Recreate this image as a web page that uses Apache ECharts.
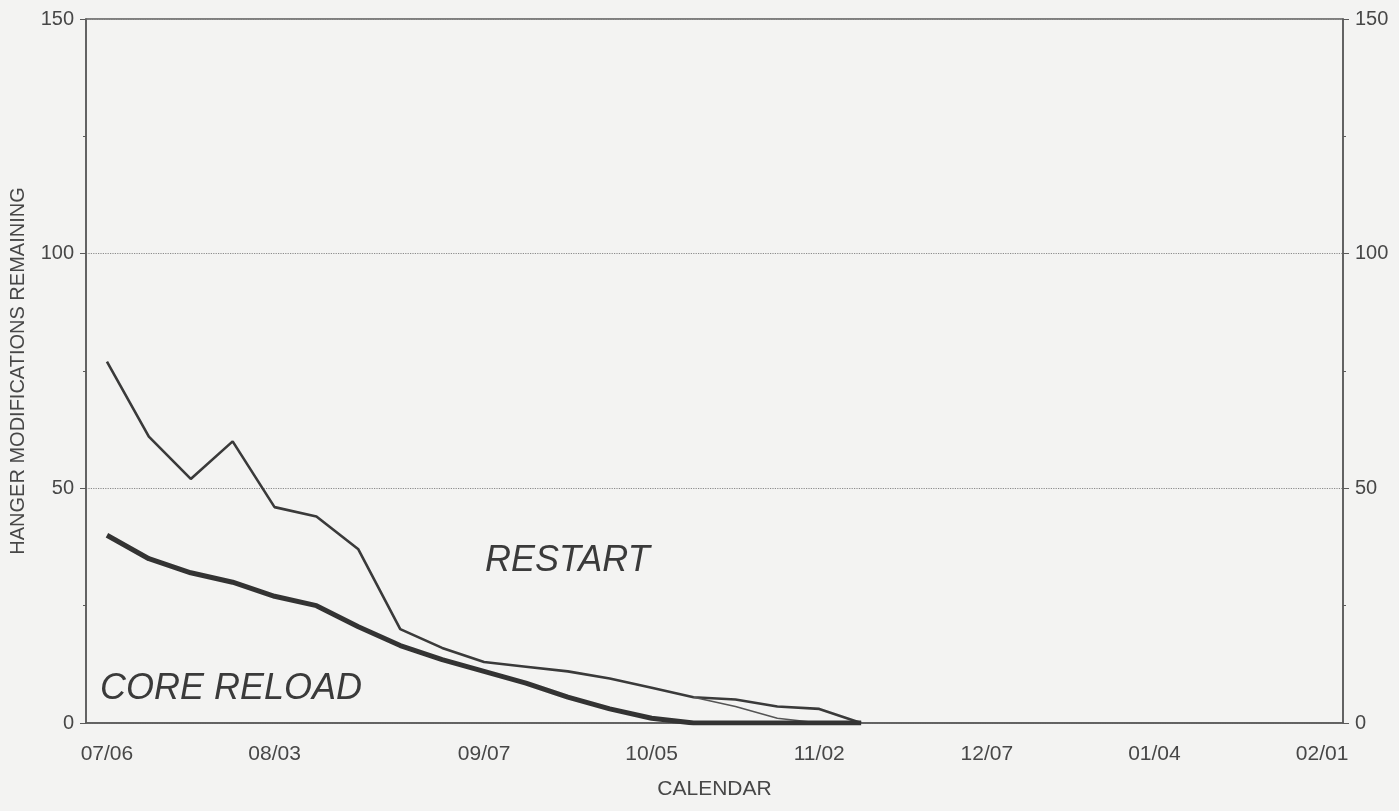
<!DOCTYPE html>
<html><head><meta charset="utf-8">
<script src="https://cdn.jsdelivr.net/npm/echarts@6/dist/echarts.min.js"></script>
<style>html,body{margin:0;padding:0;background:#f3f3f2}#c{width:1399px;height:811px}</style>
</head><body><div id="c"></div>
<script>
const weeks = ['07/06','07/13','07/20','07/27','08/03','08/10','08/17','08/24','08/31','09/07','09/14','09/21','09/28','10/05','10/12','10/19','10/26','11/02','11/09','11/16','11/23','12/07','12/14','12/21','12/28','01/04','01/11','01/18','01/25','02/01'];
const tickLabels = ['07/06','08/03','09/07','10/05','11/02','12/07','01/04','02/01'];
const restart = [77,61,52,60,46,44,37,20,16,13,12,11,9.5,7.5,5.5,5,3.5,3,0];
const restartBranch = [null,null,null,null,null,null,null,null,null,null,null,null,null,null,5.5,3.5,1,0];
const coreReload = [40,35,32,30,27,25,20.5,16.5,13.5,11,8.5,5.5,3,1,0,0,0,0,0];
const yMin = 0, yMax = 150, yStep = 50;

const FONT = '"Liberation Sans", Arial, sans-serif';
const TXT = '#474747';
const AX = '#5a5a5a';
const chart = echarts.init(document.getElementById('c'), null, {renderer: 'canvas'});

function yAxisCfg(pos) {
  return {
    type: 'value', position: pos, min: yMin, max: yMax, interval: yStep,
    axisLine: {show: true, lineStyle: {color: AX, width: 1.5}},
    axisTick: {show: true, length: 6, lineStyle: {color: AX}},
    minorTick: {show: true, splitNumber: 2, length: 3, lineStyle: {color: AX}},
    axisLabel: {color: TXT, fontFamily: FONT, fontSize: 20, margin: 12},
    splitLine: {show: pos === 'left', lineStyle: {type: 'dotted', color: '#8a8a8a', width: 1.2}},
    minorSplitLine: {show: false}
  };
}

const yl = yAxisCfg('left');
yl.name = 'HANGER MODIFICATIONS REMAINING';
yl.nameLocation = 'middle';
yl.nameGap = 58;
yl.nameTextStyle = {color: TXT, fontFamily: FONT, fontSize: 20};

chart.setOption({
  backgroundColor: '#f3f3f2',
  animation: false,
  grid: {left: 86, right: 56, top: 19, bottom: 88, show: true, borderColor: AX, borderWidth: 1.5, backgroundColor: 'transparent'},
  xAxis: {
    type: 'category', data: weeks, boundaryGap: true,
    name: 'CALENDAR', nameLocation: 'middle', nameGap: 56,
    nameTextStyle: {color: TXT, fontFamily: FONT, fontSize: 21},
    axisLine: {show: true, lineStyle: {color: AX, width: 1.5}},
    axisTick: {show: false},
    axisLabel: {
      color: TXT, fontFamily: FONT, fontSize: 21, margin: 21,
      interval: (i, v) => tickLabels.includes(v)
    },
    splitLine: {show: false}
  },
  yAxis: [yl, yAxisCfg('right')],
  series: [
    {name: 'RESTART', type: 'line', data: restart, showSymbol: false,
     lineStyle: {color: '#3a3a3a', width: 2.6}, z: 3},
    {name: 'RESTART branch', type: 'line', data: restartBranch, showSymbol: false,
     lineStyle: {color: '#555', width: 1.6}, z: 3},
    {name: 'CORE RELOAD', type: 'line', data: coreReload, showSymbol: false,
     lineStyle: {color: '#333', width: 5}, z: 4}
  ],
  graphic: [
    {type: 'text', left: 485, top: 543, style: {text: 'RESTART', fill: '#3a3a3a', font: 'italic 36px ' + FONT}},
    {type: 'text', left: 100, top: 671, style: {text: 'CORE RELOAD', fill: '#3a3a3a', font: 'italic 36px ' + FONT}}
  ]
});
</script></body></html>
